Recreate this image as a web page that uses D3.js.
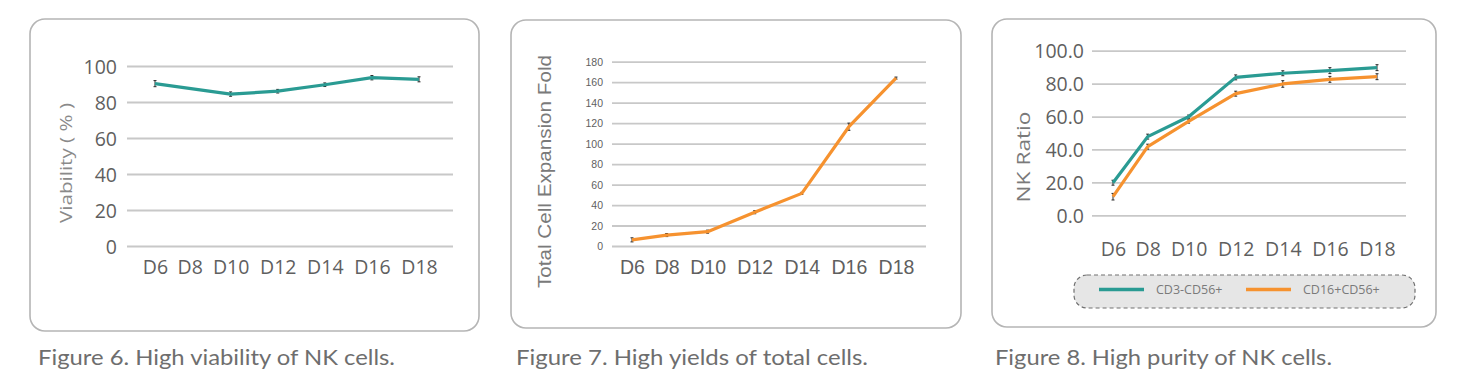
<!DOCTYPE html>
<html>
<head>
<meta charset="utf-8">
<script src="https://cdn.jsdelivr.net/npm/d3@7/dist/d3.min.js"></script>
<style>
  html, body { margin: 0; padding: 0; background: #ffffff; }
  svg { display: block; }
</style>
</head>
<body>
<svg id="chart" width="1458" height="390"></svg>
<script>
// ---------------- DATA ----------------
const categories = ["D6", "D8", "D10", "D12", "D14", "D16", "D18"];

// Figure 6: viability (%), D8 has no point in the original
const viability      = [90.2, null, 84.4, 86.0, 89.6, 93.5, 92.6];
const viabilityErr   = [1.7,  null, 1.2,  1.0,  1.0,  1.2,  1.4];
const viabilityTicks = [0, 20, 40, 60, 80, 100];

// Figure 7: total cell expansion fold
const expansionFold  = [6, 10.7, 14, 33, 51.4, 116.5, 164];
const expansionErr   = [2, 1.5, 1.5, 1.5, 1, 3.5, 1];
const expansionTicks = [0, 20, 40, 60, 80, 100, 120, 140, 160, 180];

// Figure 8: NK ratio
const seriesNames    = ["CD3-CD56+", "CD16+CD56+"];
const cd3cd56        = [19.8, 47.8, 59.9, 83.8, 86.3, 87.9, 89.7];
const cd3cd56Err     = [1.5, 1.5, 1.0, 1.5, 1.5, 1.8, 1.8];
const cd16cd56       = [11.3, 41.7, 57.0, 73.9, 79.8, 82.6, 84.2];
const cd16cd56Err    = [2.0, 1.5, 1.0, 1.5, 2.0, 1.8, 1.8];
const ratioTicks     = [0, 20, 40, 60, 80, 100];

const captions = [
  "Figure 6. High viability of NK cells.",
  "Figure 7. High yields of total cells.",
  "Figure 8. High purity of NK cells."
];

// ---------------- STYLE ----------------
const TEAL = "#2a9b93";
const ORANGE = "#f6922f";
const GRID = "#c8c8c8";
const TXT = "#5f5f5f";
const svg = d3.select("#chart");

// x positions follow the flow of the label text (labels are set like words in a line)
function flowScale(cats, x0, x1) {
  const GAP = 0.8;
  let acc = 0;
  const offs = cats.map(c => { const o = acc + c.length / 2; acc += c.length + GAP; return o; });
  const lin = d3.scaleLinear().domain([offs[0], offs[offs.length - 1]]).range([x0, x1]);
  return d3.scaleOrdinal().domain(cats).range(offs.map(lin));
}

function drawPanel(p) {
  const g = svg.append("g");
  // frame
  g.append("rect")
    .attr("x", p.box[0]).attr("y", p.box[1]).attr("width", p.box[2]).attr("height", p.box[3])
    .attr("rx", 15).attr("ry", 15)
    .attr("fill", "#fff").attr("stroke", "#b5b5b5").attr("stroke-width", 1.6);

  const y = d3.scaleLinear().domain(p.yDomain).range(p.yRange);
  const x = flowScale(categories, p.xLab[0], p.xLab[1]);

  // y axis + grid
  const yAxis = d3.axisLeft(y).tickValues(p.ticks).tickFormat(p.fmt)
    .tickSize(-(p.grid[1] - p.grid[0])).tickPadding(p.grid[0] - p.yLabX);
  const ya = g.append("g").attr("transform", `translate(${p.grid[0]},0)`).call(yAxis);
  ya.select(".domain").remove();
  ya.selectAll(".tick line").attr("stroke", GRID).attr("stroke-width", 1.8);
  ya.selectAll(".tick text").attr("fill", TXT).attr("font-family", p.font)
    .attr("font-size", p.yFont).attr("dy", "0.36em");

  // x axis labels
  const xAxis = d3.axisBottom(x).tickSize(0).tickPadding(0);
  const xa = g.append("g").attr("transform", `translate(0,${p.xBase})`).call(xAxis);
  xa.select(".domain").remove();
  xa.selectAll(".tick text").attr("y", 0).attr("dy", 0).attr("fill", TXT)
    .attr("font-family", p.xFontFam || p.font).attr("font-size", p.xFont);

  // y title
  g.append("text")
    .attr("transform", `translate(${p.title.x},${p.title.y}) rotate(-90)`)
    .attr("text-anchor", "middle").attr("dominant-baseline", "central")
    .attr("font-family", p.title.font).attr("font-size", p.title.size)
    .attr("fill", p.title.color)
    .attr("textLength", p.title.len).attr("lengthAdjust", "spacingAndGlyphs")
    .text(p.title.text);

  // series
  const line = d3.line().x(d => x(d.c)).y(d => y(d.v));
  p.series.forEach(s => {
    const pts = categories.map((c, i) => ({ c, v: s.values[i], e: s.err[i] })).filter(d => d.v != null);
    // error bars
    const eb = g.append("g").attr("stroke", "#2b2b2b").attr("stroke-width", 1);
    pts.forEach(d => {
      eb.append("line").attr("x1", x(d.c)).attr("x2", x(d.c)).attr("y1", y(d.v - d.e)).attr("y2", y(d.v + d.e));
      eb.append("line").attr("x1", x(d.c) - 1.5).attr("x2", x(d.c) + 1.5).attr("y1", y(d.v - d.e)).attr("y2", y(d.v - d.e));
      eb.append("line").attr("x1", x(d.c) - 1.5).attr("x2", x(d.c) + 1.5).attr("y1", y(d.v + d.e)).attr("y2", y(d.v + d.e));
    });
    g.append("path").datum(pts).attr("d", line)
      .attr("fill", "none").attr("stroke", s.color).attr("stroke-width", 3.2)
      .attr("stroke-linejoin", "round");
  });
  return g;
}

drawPanel({
  box: [30, 19, 449, 312], grid: [127, 453], yDomain: [0, 100], yRange: [246, 66],
  ticks: viabilityTicks, fmt: d3.format("d"), yLabX: 117, font: "Open Sans", yFont: 19.5,
  xLab: [155, 419], xBase: 274, xFont: 19.5,
  title: { x: 65, y: 163, text: "Viability ( % )", font: "Open Sans", size: 17, color: "#8a8a8a", len: 120 },
  series: [{ values: viability, err: viabilityErr, color: TEAL }]
});

drawPanel({
  box: [511, 20, 450, 308], grid: [612, 926], yDomain: [0, 180], yRange: [246, 61.7],
  ticks: expansionTicks, fmt: d3.format("d"), yLabX: 603, font: "Liberation Sans", yFont: 10.5,
  xLab: [632, 896], xBase: 274, xFont: 19.5,
  title: { x: 544, y: 171.5, text: "Total Cell Expansion Fold", font: "Liberation Sans", size: 18.5, color: "#7a7a7a", len: 233 },
  series: [{ values: expansionFold, err: expansionErr, color: ORANGE }]
});

drawPanel({
  box: [992, 19, 444, 308], grid: [1092, 1406], yDomain: [0, 100], yRange: [215.3, 50.7],
  ticks: ratioTicks, fmt: d3.format(".1f"), yLabX: 1084, font: "Open Sans", yFont: 19.5,
  xLab: [1113, 1377], xBase: 256, xFont: 19.5,
  title: { x: 1023, y: 157, text: "NK Ratio", font: "Open Sans", size: 19, color: "#7a7a7a", len: 91 },
  series: [
    { values: cd3cd56, err: cd3cd56Err, color: TEAL },
    { values: cd16cd56, err: cd16cd56Err, color: ORANGE }
  ]
});

// legend for figure 8
const lg = svg.append("g");
lg.append("rect").attr("x", 1074).attr("y", 275).attr("width", 341).attr("height", 33)
  .attr("rx", 13).attr("ry", 13).attr("fill", "#e6e6e6")
  .attr("stroke", "#707070").attr("stroke-width", 1.2).attr("stroke-dasharray", "4,3");
const legendX = d3.scalePoint().domain(seriesNames).range([1099, 1246]);
const legendColors = d3.scaleOrdinal().domain(seriesNames).range([TEAL, ORANGE]);
seriesNames.forEach(n => {
  lg.append("line").attr("x1", legendX(n)).attr("x2", legendX(n) + 45).attr("y1", 289.5).attr("y2", 289.5)
    .attr("stroke", legendColors(n)).attr("stroke-width", 3.5);
  lg.append("text").attr("x", legendX(n) + 57).attr("y", 289.5).attr("dominant-baseline", "central")
    .attr("font-family", "Open Sans").attr("font-size", 12.5).attr("fill", "#7a7a7a").text(n);
});

// captions
const capX = [38, 516, 995];
const capLen = [357, 352, 337];
svg.selectAll("text.caption").data(captions).enter().append("text")
  .attr("class", "caption")
  .attr("x", (d, i) => capX[i]).attr("y", 365)
  .attr("font-family", "Lato").attr("font-size", 21.5).attr("fill", "#6e6e6e")
  .attr("textLength", (d, i) => capLen[i]).attr("lengthAdjust", "spacingAndGlyphs")
  .text(d => d);
</script>
</body>
</html>
